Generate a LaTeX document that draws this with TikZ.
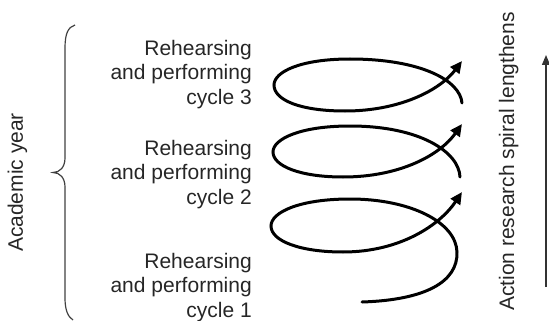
\documentclass[tikz,border=0pt]{standalone}
\usepackage{fontspec}
\setmainfont{Liberation Sans}
\usetikzlibrary{arrows.meta}
\tikzset{
  lbl/.style={inner sep=0pt, font=\fontsize{21}{24.5}\selectfont, text=black!85},
  cyc/.style={lbl, align=right, anchor=base east},
  spiral/.style={line width=3pt, black, line cap=round, -{Triangle[length=12pt,width=11pt]}},
  bracestyle/.style={line width=1.2pt, black!75},
  uparrow/.style={line width=1.3pt, black!80, -{Triangle[length=10pt,width=8pt]}}
}
\begin{document}
\begin{tikzpicture}[x=1pt,y=-1pt]
\useasboundingbox (0,0) rectangle (549,321);
% labels (base anchor = baseline of last line)
\node[cyc] (c3) at (252,104) {Rehearsing\\and performing\\cycle 3};
\node[cyc] (c2) at (252,204) {Rehearsing\\and performing\\cycle 2};
\node[cyc] (c1) at (252,317) {Rehearsing\\and performing\\cycle 1};
\node[lbl, rotate=90, anchor=base] (ay) at (23,182.5) {Academic year};
\node[lbl, rotate=90, anchor=base] (ar) at (514,161.5) {Action research spiral lengthens};
% brace
\coordinate (bt) at (75,25);
\coordinate (bb) at (73,320);
\coordinate (btip) at (53,172.5);
\draw[bracestyle] (bt) .. controls (68,27) and (65,34) .. (65,48) -- (65,158)
  .. controls (65,167) and (60,172.5) .. (btip)
  .. controls (60,172.5) and (65,178) .. (65,187) -- (65,298)
  .. controls (65,310) and (68,317) .. (bb);
% right arrow
\coordinate (ra1) at (546,287);
\coordinate (ra2) at (546,55);
\draw[uparrow] (ra1) -- (ra2);
% spiral loops
\coordinate (s1a) at (462,103);
\coordinate (s1b) at (462,61);
\draw[spiral] (s1a) .. controls (460,80) and (420,59) .. (350,59)
  .. controls (300,59) and (274,72) .. (274,85)
  .. controls (274,100) and (300,111) .. (345,111)
  .. controls (400,111) and (440,90) .. (s1b);
\coordinate (s2a) at (460,177);
\coordinate (s2b) at (462,124);
\draw[spiral] (s2a) .. controls (459,152) and (420,126) .. (350,126)
  .. controls (300,126) and (273,139) .. (273,152)
  .. controls (273,166) and (300,177) .. (343,177)
  .. controls (400,177) and (440,155) .. (s2b);
\coordinate (s3a) at (362,302);
\coordinate (s3b) at (462,192);
\draw[spiral] (s3a) .. controls (425,300) and (458,282) .. (457,252)
  .. controls (456,222) and (410,199) .. (350,199)
  .. controls (300,199) and (271,212) .. (271,226)
  .. controls (271,241) and (300,252) .. (343,252)
  .. controls (400,252) and (440,225) .. (s3b);
\end{tikzpicture}
\end{document}
